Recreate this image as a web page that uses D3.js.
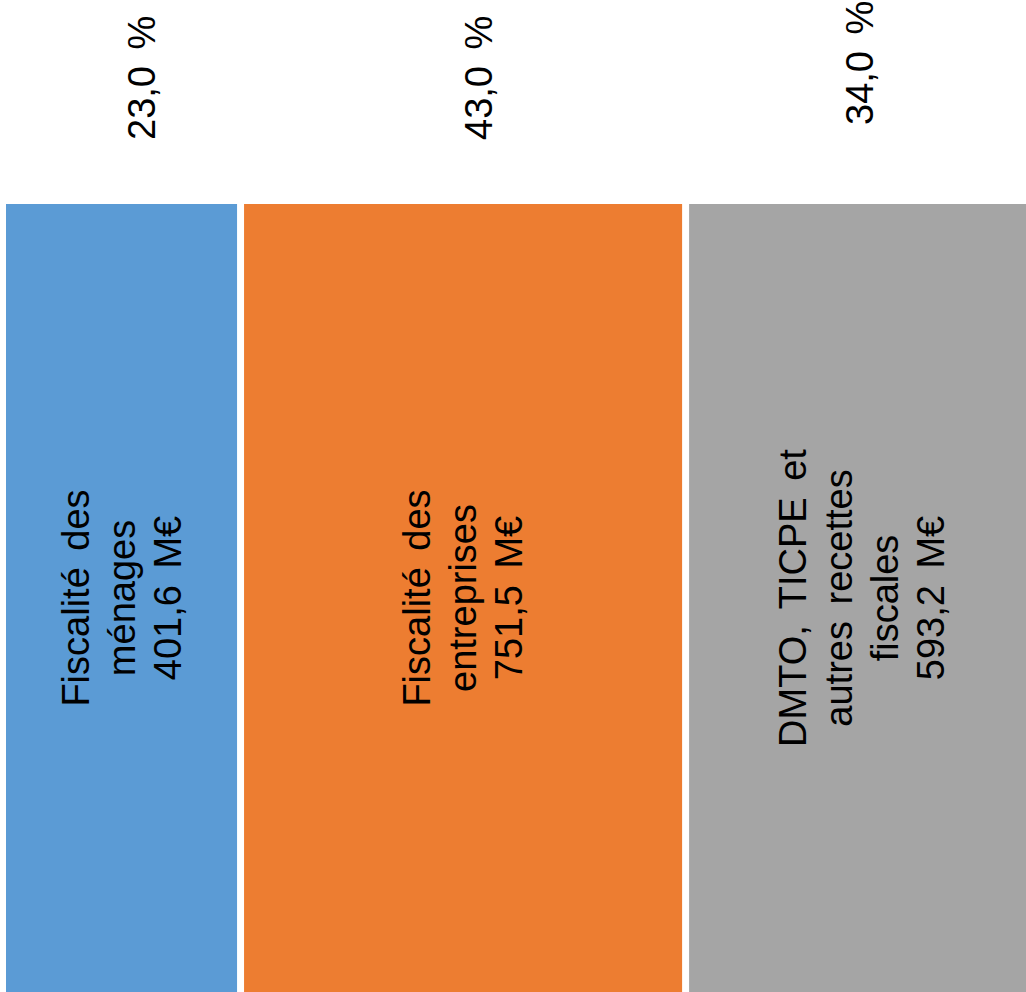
<!DOCTYPE html>
<html>
<head>
<meta charset="utf-8">
<script src="https://cdn.jsdelivr.net/npm/d3@7"></script>
<style>
  html, body { margin: 0; padding: 0; background: #fff; }
  svg { display: block; }
  text { font-family: "Liberation Sans", Arial, sans-serif; fill: #000; }
</style>
</head>
<body>
<script>
// ---- data ----
const categories = ["Fiscalité des ménages", "Fiscalité des entreprises", "DMTO, TICPE et autres recettes fiscales"];
const labelLines = [
  ["Fiscalité des", "ménages"],
  ["Fiscalité des", "entreprises"],
  ["DMTO, TICPE et", "autres recettes", "fiscales"]
];
const amounts = [401.6, 751.5, 593.2];      // M€
const shares = [23.0, 43.0, 34.0];          // %
const colors = ["#5B9BD5", "#ED7D31", "#A5A5A5"];

// label nudges (placement only)
const pctNudgeX = [33.5, 29, 11.5];
const pctNudgeY = [0, 0, -15];

const W = 1026, H = 992;
const fmt = v => v.toFixed(1).replace(".", ",");

const svg = d3.select("body").append("svg").attr("width", W).attr("height", H);

const x = d3.scaleLinear().domain([0, 100]).range([2.5, 1037.5]);
const y = d3.scaleBand().domain(["total"]).range([204, 1000]).padding(0);

let cum = 0;
const segs = shares.map((s, i) => {
  const d = { i, x0: cum, x1: cum + s, share: s, amount: amounts[i], color: colors[i], lines: labelLines[i], cat: categories[i] };
  cum += s;
  return d;
});

const gap = 7;
svg.selectAll("rect.seg").data(segs).join("rect")
  .attr("class", "seg")
  .attr("x", d => x(d.x0) + gap / 2)
  .attr("width", d => x(d.x1) - x(d.x0) - gap)
  .attr("y", y("total"))
  .attr("height", y.bandwidth())
  .attr("fill", d => d.color);

// percent labels above
svg.selectAll("text.pct").data(segs).join("text")
  .attr("class", "pct")
  .attr("transform", d => `translate(${(x(d.x0) + x(d.x1)) / 2 + pctNudgeX[d.i]},${140 + pctNudgeY[d.i]}) rotate(-90)`)
  .attr("text-anchor", "start")
  .style("font-size", "38px")
  .style("word-spacing", "6px")
  .text(d => fmt(d.share) + " %");

// inner labels
const fs = 38, lh = 46;
const cy = 598;
svg.selectAll("text.inner").data(segs).join("text")
  .attr("class", "inner")
  .attr("transform", d => `translate(${(x(d.x0) + x(d.x1)) / 2},${cy}) rotate(-90)`)
  .attr("text-anchor", "middle")
  .style("font-size", fs + "px")
  .style("word-spacing", "6px")
  .each(function(d) {
    const lines = d.lines.concat([fmt(d.amount) + " M€"]);
    const n = lines.length;
    const t = d3.select(this);
    lines.forEach((ln, k) => {
      t.append("tspan")
        .attr("x", 0)
        .attr("y", (k - (n - 1) / 2) * lh + fs * 0.35)
        .text(ln);
    });
  });
</script>
</body>
</html>
